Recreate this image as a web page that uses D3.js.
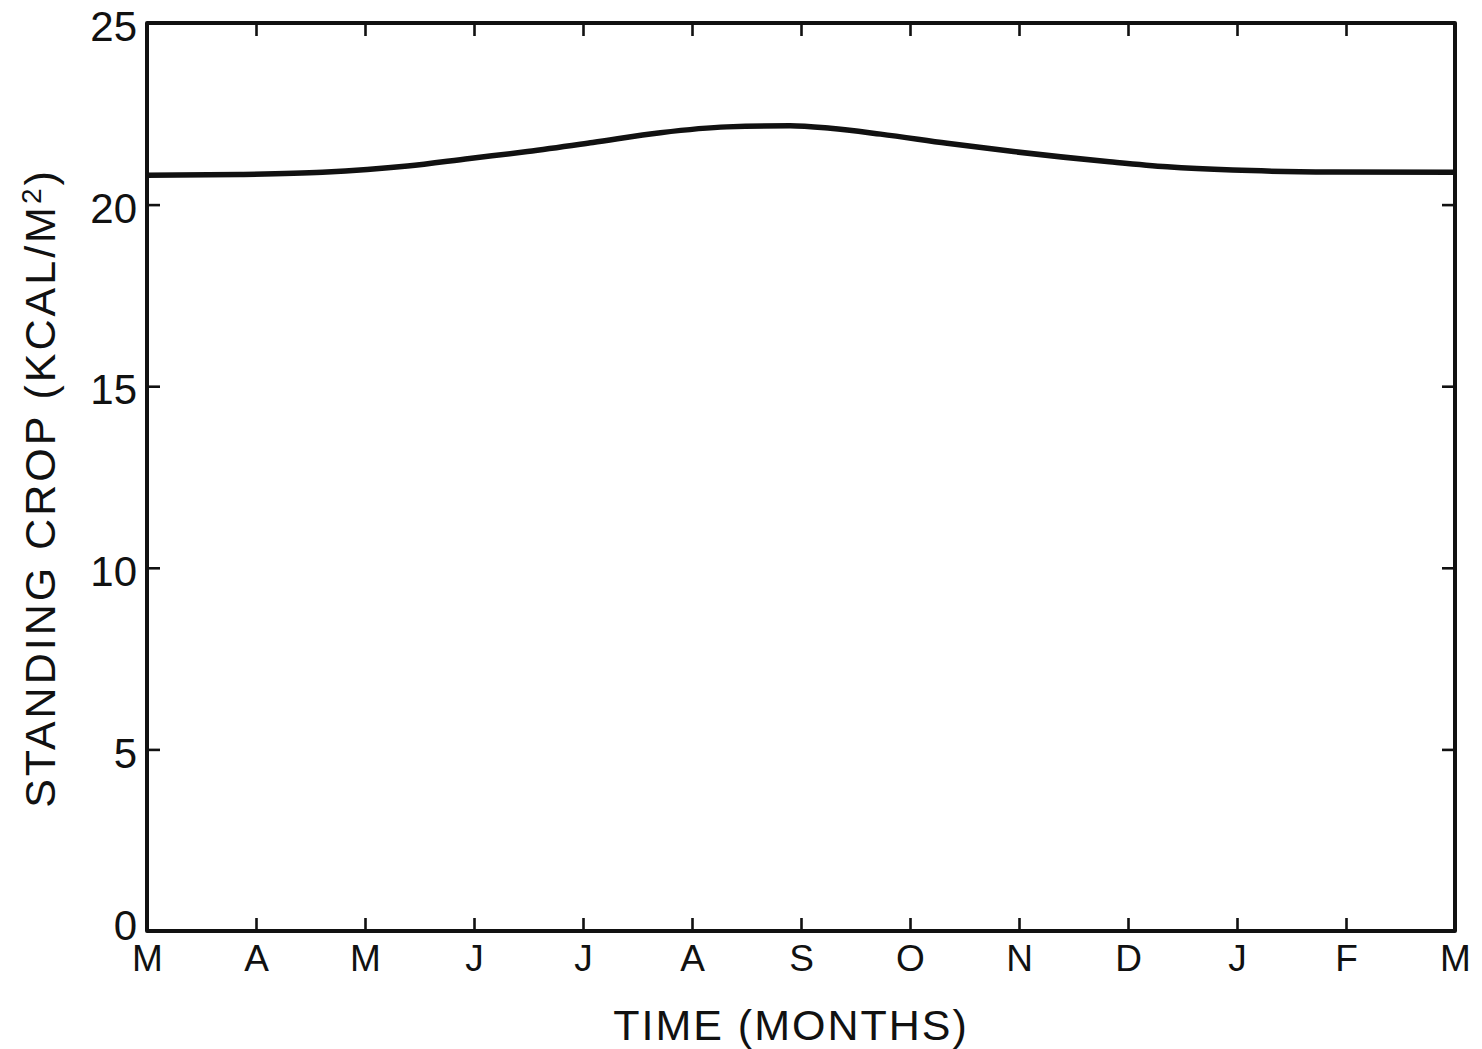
<!DOCTYPE html>
<html>
<head>
<meta charset="utf-8">
<script src="https://cdn.jsdelivr.net/npm/d3@7"></script>
<style>
  body { margin: 0; background: #fff; }
  text { font-family: "Liberation Sans", Arial, sans-serif; fill: #111; }
</style>
</head>
<body>
<script>
// Width and height
var w = 1482;
var h = 1049;
var margin = { top: 23, right: 27, bottom: 118, left: 147 };
var iw = w - margin.left - margin.right;
var ih = h - margin.top - margin.bottom;

// Month labels, March to March
var monthLabels = ["M", "A", "M", "J", "J", "A", "S", "O", "N", "D", "J", "F", "M"];
var yTicks = [0, 5, 10, 15, 20, 25];

// Curve (months after March 1, kcal/m2)
var curveMonths = [0, 0.85, 1.61, 2.39, 2.96, 3.49, 4.09, 4.71, 5.32, 5.9, 6.27, 6.73, 7.34, 7.95, 8.83, 9.36, 9.96, 10.88, 12];
var curveValues = [20.81, 20.83, 20.89, 21.06, 21.27, 21.46, 21.71, 21.98, 22.14, 22.17, 22.1, 21.94, 21.69, 21.46, 21.18, 21.04, 20.95, 20.9, 20.89];

var xScale = d3.scaleLinear().domain([0, 12]).range([0, iw]);
var yScale = d3.scaleLinear().domain([0, 25]).range([ih, 0]);

var svg = d3.select("body").append("svg")
  .attr("width", w)
  .attr("height", h);

var g = svg.append("g")
  .attr("transform", "translate(" + margin.left + "," + margin.top + ")");

// axes, ticks pointing inward
var xBottom = d3.axisBottom(xScale)
  .tickValues(d3.range(13))
  .tickFormat(function(d) { return monthLabels[d]; })
  .tickSize(-13)
  .tickPadding(14);

var xTop = d3.axisTop(xScale)
  .tickValues(d3.range(13))
  .tickFormat("")
  .tickSize(-13);

var yLeft = d3.axisLeft(yScale)
  .tickValues(yTicks)
  .tickSize(-13)
  .tickPadding(10);

var yRight = d3.axisRight(yScale)
  .tickValues(yTicks)
  .tickFormat("")
  .tickSize(-13);

function styleAxis(sel) {
  sel.select(".domain").remove();
  sel.selectAll(".tick line").attr("stroke", "#111").attr("stroke-width", 2.6);
}

g.append("g").attr("transform", "translate(0," + ih + ")").call(xBottom).call(styleAxis)
  .selectAll("text").style("font-size", "37px").attr("fill", "#111");
g.append("g").call(xTop).call(styleAxis);
g.append("g").call(yLeft).call(styleAxis)
  .selectAll("text")
  .style("font-size", "42px")
  .attr("dy", function(d) { return d === 0 ? "0.2em" : "0.42em"; })
  .attr("fill", "#111");
g.append("g").attr("transform", "translate(" + iw + ",0)").call(yRight).call(styleAxis);

// frame
g.append("rect")
  .attr("width", iw)
  .attr("height", ih)
  .attr("fill", "none")
  .attr("stroke", "#111")
  .attr("stroke-width", 4)
  .attr("stroke-linejoin", "round");

// standing crop curve
var line = d3.line()
  .x(function(d, i) { return xScale(curveMonths[i]); })
  .y(function(d) { return yScale(d); })
  .curve(d3.curveMonotoneX);

g.append("path")
  .datum(curveValues)
  .attr("d", line)
  .attr("fill", "none")
  .attr("stroke", "#111")
  .attr("stroke-width", 5.5);

// axis titles
svg.append("text")
  .attr("x", 791)
  .attr("y", 1040)
  .attr("text-anchor", "middle")
  .style("font-size", "43px")
  .style("letter-spacing", "2px")
  .text("TIME (MONTHS)");

var yTitle = svg.append("text")
  .attr("transform", "translate(55,488) rotate(-90)")
  .attr("text-anchor", "middle")
  .style("font-size", "43px")
  .style("letter-spacing", "3px");
yTitle.append("tspan").text("STANDING CROP (KCAL/M");
yTitle.append("tspan").attr("dy", "-14").style("font-size", "28px").text("2");
yTitle.append("tspan").attr("dy", "14").text(")");
</script>
</body>
</html>
